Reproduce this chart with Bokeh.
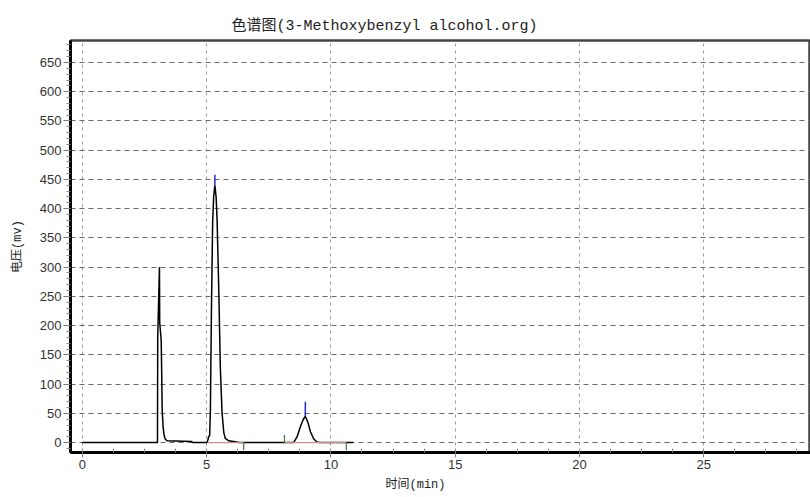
from bokeh.plotting import figure
from bokeh.models import Range1d, SingleIntervalTicker, Title
from bokeh.embed import file_html
from bokeh.resources import INLINE

# Chromatogram trace: retention time (min) and detector voltage (mV)
trace_time = [0.00, 3.02, 3.03, 3.10, 3.11, 3.17, 3.19, 3.21, 3.25, 3.29, 3.33, 3.40,
              4.40, 4.42, 5.00, 5.04, 5.08, 5.12, 5.15, 5.19, 5.24, 5.28, 5.33, 5.38,
              5.42, 5.49, 5.55, 5.62, 5.69, 5.75, 5.89, 6.20, 6.30, 8.50, 8.64, 8.77,
              8.88, 8.97, 9.07, 9.18, 9.31, 9.44, 9.55, 10.90]
trace_mv = [0, 0, 180, 300, 205, 175, 120, 55, 25, 12, 6, 3,
            2, 0, 0, 3, 10, 12, 55, 220, 375, 420, 440, 420,
            380, 255, 128, 50, 17, 7, 3, 1, 0, 0, 10, 27,
            39, 45, 35, 18, 6, 1, 0, 0]

# Peak apex marks (time, apex value, top of mark)
apex_time = [5.33, 8.97]
apex_low = [440, 45]
apex_high = [458, 70]

# Integration events: time and mark direction
event_time = [6.49, 8.13, 10.62]
event_len = [-13, 13, -13]

# Integration baselines (start, end)
base_start = [5.04, 8.13]
base_end = [6.49, 10.62]

x_ticks_interval = 5
y_ticks_interval = 50

label_font = "'Liberation Mono', 'Noto Sans CJK SC'"
tick_font = "'Liberation Sans'"

p = figure(width=810, height=497, output_backend="svg", toolbar_location=None,
           x_range=Range1d(-0.48, 29.3), y_range=Range1d(-17, 687.6),
           min_border_left=70, min_border_right=0, min_border_top=40,
           min_border_bottom=45, background_fill_color="white",
           border_fill_color="white")

p.title = Title(text="色谱图(3-Methoxybenzyl alcohol.org)", align="left", offset=161,
                text_font=label_font, text_font_size="15px", text_font_style="normal",
                text_color="#222222", standoff=12)

# Grid lines
p.xgrid.ticker = SingleIntervalTicker(interval=x_ticks_interval)
p.ygrid.ticker = SingleIntervalTicker(interval=y_ticks_interval)
p.xgrid.grid_line_color = "#9a9a9a"
p.xgrid.grid_line_dash = "3 4"
p.xgrid.grid_line_width = 1
p.ygrid.grid_line_color = "#6a6a6a"
p.ygrid.grid_line_dash = "5 4"
p.ygrid.grid_line_width = 1

p.outline_line_color = "#444444"
p.outline_line_width = 2.5

# Axes
xa = p.xaxis[0]
xa.ticker = SingleIntervalTicker(interval=x_ticks_interval, num_minor_ticks=4)
xa.axis_line_width = 3
xa.axis_line_color = "black"
xa.major_tick_out = 5
xa.major_tick_in = 0
xa.major_tick_line_color = "#888888"
xa.minor_tick_in = 4
xa.minor_tick_out = 0
xa.minor_tick_line_color = "#888888"
xa.major_label_standoff = 2
xa.major_label_text_font = tick_font
xa.major_label_text_font_size = "13px"
xa.major_label_text_color = "#333333"

ya = p.yaxis[0]
ya.ticker = SingleIntervalTicker(interval=y_ticks_interval, num_minor_ticks=5)
ya.axis_line_width = 3
ya.axis_line_color = "black"
ya.major_tick_out = 7
ya.major_tick_in = 0
ya.major_tick_line_color = "#777777"
ya.minor_tick_out = 4
ya.minor_tick_in = 0
ya.minor_tick_line_color = "#888888"
ya.major_label_standoff = 2
ya.major_label_text_font = tick_font
ya.major_label_text_font_size = "13px"
ya.major_label_text_color = "#333333"
ya.axis_label = "电压(mv)"
ya.axis_label_text_font = label_font
ya.axis_label_text_font_size = "12px"
ya.axis_label_text_font_style = "normal"
ya.axis_label_text_color = "#222222"
ya.axis_label_standoff = 12

# Time-axis caption below the tick labels
p.add_layout(Title(text="时间(min)", align="left", offset=315, text_font=label_font,
                   text_font_size="12px", text_font_style="normal",
                   text_color="#222222", standoff=9), "below")

# Trace
p.line(trace_time, trace_mv, line_color="black", line_width=1.5)

# Integration baselines
p.segment(x0=base_start, y0=[0, 0], x1=base_end, y1=[0, 0],
          line_color="#c89090", line_width=1.2)

# Event marks
p.segment(x0=event_time, y0=[0] * len(event_time), x1=event_time, y1=event_len,
          line_color="#3a7a3a", line_width=1.2)

# Apex marks
p.segment(x0=apex_time, y0=apex_low, x1=apex_time, y1=apex_high,
          line_color="#2a2ad0", line_width=1.5)

open("out.html", "w").write(file_html(p, INLINE))
